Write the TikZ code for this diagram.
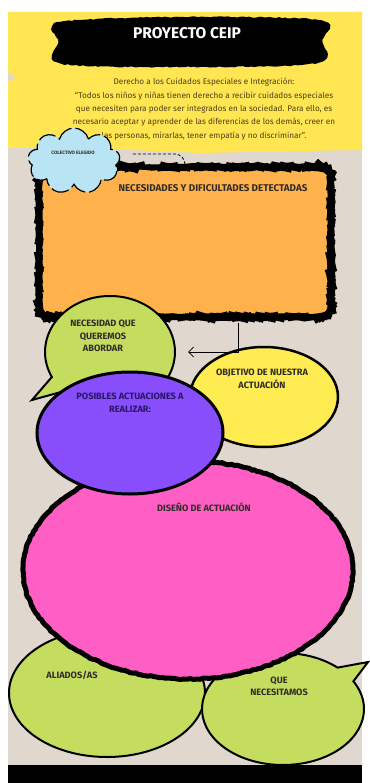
\documentclass[tikz,border=0pt]{standalone}
\usepackage{fontspec}
\setmainfont{Fira Sans}
\usetikzlibrary{shapes.geometric,shapes.callouts,shapes.symbols,decorations.pathmorphing,arrows.meta}

\definecolor{beige}{RGB}{224,216,206}
\definecolor{lemon}{RGB}{255,230,82}
\definecolor{apricot}{RGB}{255,178,76}
\definecolor{skyblue}{RGB}{184,228,244}
\definecolor{lime}{RGB}{197,221,95}
\definecolor{sunny}{RGB}{255,236,82}
\definecolor{grape}{RGB}{137,78,252}
\definecolor{fuchsia}{RGB}{255,94,196}
\definecolor{ink}{RGB}{50,44,40}
\definecolor{paratext}{RGB}{78,62,22}
\definecolor{grapeink}{RGB}{40,22,100}

\tikzset{
    rough/.style={decorate, decoration={random steps, segment length=3pt, amplitude=0.6pt}},
    blob/.style={ellipse, draw=black, line width=2.5pt, inner sep=0pt},
    bubble/.style={ellipse callout, draw=black, line width=2pt, fill=lime, inner sep=0pt, callout pointer arc=18},
    caption/.style={font=\bfseries\fontsize{9.2}{12.5}\selectfont, text=ink, align=center},
}

\begin{document}
\begin{tikzpicture}[x=1pt, y=-1pt]
    \pgfmathsetseed{7}
    \useasboundingbox (0,0) rectangle (369,783);
    \fill[white] (0,0) rectangle (369,783);
    \fill[beige] (8,12) rectangle (362,770);

    % top panel and title
    \fill[lemon] plot coordinates {(8,12) (362,12) (362,150) (300,151) (200,153) (130,150) (60,147) (8,148) (8,82) (16,78) (8,72)} -- cycle;
    \fill[black, rough] plot[smooth cycle, tension=0.5] coordinates {(60,22) (180,17) (320,20) (323,40) (318,63) (200,67) (62,64) (58,42)};
    \node[font=\bfseries\fontsize{15.5}{16}\selectfont, text=white] (title) at (187,33) {PROYECTO CEIP};
    \node[font=\fontsize{8.2}{13.3}\selectfont, text=paratext, align=center] (right) at (204,109)
        {Derecho a los Cuidados Especiales e Integración:\\
         ``Todos los niños y niñas tienen derecho a recibir cuidados especiales\\
         que necesiten para poder ser integrados en la sociedad. Para ello, es\\
         necesario aceptar y aprender de las diferencias de los demás, creer en\\
         las personas, mirarlas, tener empatía y no discriminar''.};

    % detected needs
    \node[draw=black, line width=5pt, rough, rounded corners=12pt, fill=apricot, minimum width=292pt, minimum height=150pt] (box) at (185,242) {};
    \node[caption, font=\bfseries\fontsize{9.8}{11}\selectfont] (boxtext) at (213,188) {NECESIDADES Y DIFICULTADES DETECTADAS};

    \node[cloud, cloud puffs=9, fill=skyblue, draw=black, line width=1.2pt, dash pattern=on 18pt off 4pt, minimum width=92pt, minimum height=66pt, inner sep=0pt] (collective) at (74,161) {};
    \node[font=\bfseries\fontsize{4.8}{5}\selectfont, text=ink] (collectivetext) at (73,153) {COLECTIVO ELEGIDO};
    \draw[line width=0.8pt, dash pattern=on 3pt off 2pt] ([xshift=13pt, yshift=7pt]collective.east) -- ++(42,0) to[out=0, in=90] (box.north);

    % bottom bubbles and design
    \node[blob, fill=lime, line width=2pt, minimum width=196pt, minimum height=128pt] (allies) at (107,693) {};
    \node[bubble, minimum width=162pt, minimum height=112pt, callout absolute pointer={(368,662)}] (tools) at (283,709) {};
    \node[blob, rough, fill=fuchsia, line width=5pt, minimum width=330pt, minimum height=218pt] (design) at (188,570) {};

    % goal, need and actions
    \node[blob, fill=sunny, minimum width=148pt, minimum height=100pt] (goal) at (264,397) {};
    \node[bubble, minimum width=130pt, minimum height=112pt, callout absolute pointer={(32,400)}] (need) at (110,352) {};
    \node[blob, fill=grape, line width=3pt, minimum width=186pt, minimum height=122pt] (actions) at (130,433) {};

    \draw[-{Straight Barb[length=5pt, width=10pt]}, line width=0.8pt, shorten <=3.5pt, shorten >=12pt] ([xshift=53pt]box.south) |- (need.east);

    \node[caption] (needtext) at (103,336) {NECESIDAD QUE\\QUEREMOS\\ABORDAR};
    \node[caption] (goaltext) at (262,379) {OBJETIVO DE NUESTRA\\ACTUACIÓN};
    \node[caption, text=grapeink] (actionstext) at (130,403) {POSIBLES ACTUACIONES A\\REALIZAR:};
    \node[caption] (designtext) at (204,507) {DISEÑO DE ACTUACIÓN};
    \node[caption] (alliestext) at (72,675) {ALIADOS/AS};
    \node[caption, font=\bfseries\fontsize{9.2}{12}\selectfont] (toolstext) at (279,686) {QUE\\NECESITAMOS};

    \fill[black] (8,765) rectangle (362,783);
\end{tikzpicture}
\end{document}
